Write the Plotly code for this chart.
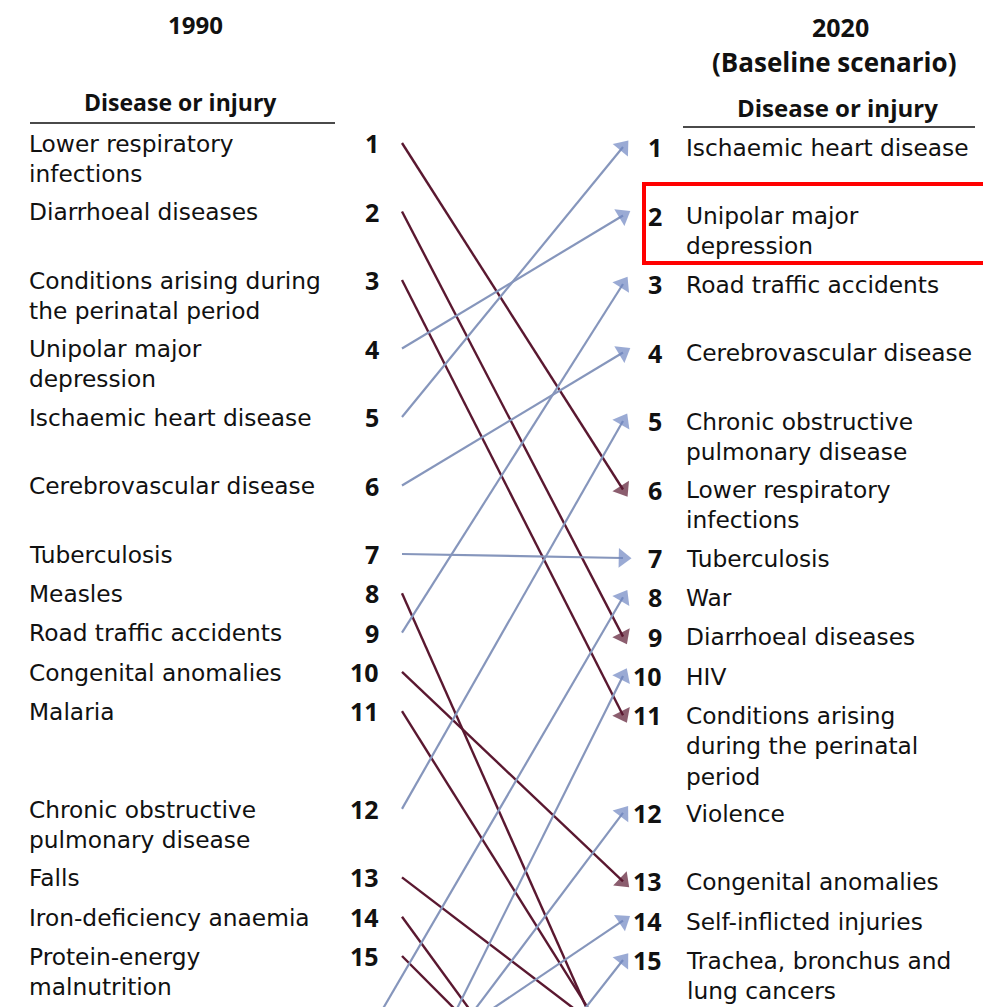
import plotly.graph_objects as go

# ---------------- data ----------------
labels_1990 = [
    "Lower respiratory<br>infections",
    "Diarrhoeal diseases",
    "Conditions arising during<br>the perinatal period",
    "Unipolar major<br>depression",
    "Ischaemic heart disease",
    "Cerebrovascular disease",
    "Tuberculosis",
    "Measles",
    "Road traffic accidents",
    "Congenital anomalies",
    "Malaria",
    "Chronic obstructive<br>pulmonary disease",
    "Falls",
    "Iron-deficiency anaemia",
    "Protein-energy<br>malnutrition",
]
labels_2020 = [
    "Ischaemic heart disease",
    "Unipolar major<br>depression",
    "Road traffic accidents",
    "Cerebrovascular disease",
    "Chronic obstructive<br>pulmonary disease",
    "Lower respiratory<br>infections",
    "Tuberculosis",
    "War",
    "Diarrhoeal diseases",
    "HIV",
    "Conditions arising<br>during the perinatal<br>period",
    "Violence",
    "Congenital anomalies",
    "Self-inflicted injuries",
    "Trachea, bronchus and<br>lung cancers",
]
causes = [
    "Lower respiratory infections", "Diarrhoeal diseases", "Perinatal conditions",
    "Unipolar major depression", "Ischaemic heart disease", "Cerebrovascular disease",
    "Tuberculosis", "Measles", "Road traffic accidents", "Congenital anomalies",
    "Malaria", "COPD", "Falls", "Iron-deficiency anaemia", "Protein-energy malnutrition",
    "War", "Self-inflicted injuries", "Violence", "HIV", "Trachea, bronchus and lung cancers",
]
rank_1990 = [1, 2, 3, 4, 5, 6, 7, 8, 9, 10, 11, 12, 13, 14, 15, 16, 17, 19, 28, 33]
rank_2020 = [6, 9, 11, 2, 1, 4, 7, 25, 3, 13, 24, 5, 19, 39, 37, 8, 14, 12, 10, 15]
rank_ticks = [str(i) for i in range(1, 16)]

# ---------------- layout geometry ----------------
W, H = 983, 1007
FIRST_ROW = 143.0
ROW_STEP = 39.3
LINE_STEP = 29.2
RIGHT_SHIFT = 4.0
LEFT_X, RIGHT_X = 402, 623
LOWER_LEFT_X = 360
# rows below the visible crop (estimated from line slopes)
lower_left_rows = {16: 1048, 17: 1098, 19: 1162, 28: 1203, 33: 1296}
lower_right_rows = {19: 1046, 24: 1064, 25: 1090, 37: 1178, 39: 1220}

nlines = [max(a.count("<br>"), b.count("<br>")) + 1 for a, b in zip(labels_1990, labels_2020)]
row_y = [FIRST_ROW]
for n in nlines[:-1]:
    row_y.append(row_y[-1] + ROW_STEP + LINE_STEP * (n - 1))

BLUE = "#8696bc"
BLUE_HEAD = "#6f86c2"
RED = "#5a1830"
FONT = "Open Sans"
LABEL_FONT = "DejaVu Sans"
LABEL_SIZE = 23.3
TXT = "#111111"

fig = go.Figure()

for c, r0, r1 in zip(causes, rank_1990, rank_2020):
    if r0 <= 15:
        x0, y0 = LEFT_X, row_y[r0 - 1]
    else:
        x0, y0 = LOWER_LEFT_X, lower_left_rows[r0]
    if r1 <= 15:
        y1 = row_y[r1 - 1] + RIGHT_SHIFT
    else:
        y1 = lower_right_rows[r1]
    x1 = RIGHT_X
    rising = r1 <= r0
    col = BLUE if rising else RED
    head = BLUE_HEAD if rising else RED
    fig.add_trace(go.Scatter(
        x=[x0, x1], y=[y0, y1], mode="lines+markers", name=c,
        line=dict(color=col, width=2.2 if rising else 2.4),
        marker=dict(symbol="triangle-up", size=[0, 17], angleref="previous",
                    color=head, line=dict(width=0)),
        hoverinfo="name",
    ))

ann = []
def text(x, y, s, size=25, xanchor="left", yanchor="middle", bold=False,
         family=FONT, color=TXT):
    ann.append(dict(x=x, y=y, xref="x", yref="y", text=("<b>%s</b>" % s) if bold else s,
                    showarrow=False, xanchor=xanchor, yanchor=yanchor, align="left",
                    font=dict(family=family, size=size, color=color)))

def label(x, y, s):
    # first line centred on the row; line spacing = 1.3 em
    text(x, y - 0.65 * LABEL_SIZE, s, size=LABEL_SIZE, yanchor="top", family=LABEL_FONT)

# headers
text(195, 24, "1990", size=24, xanchor="center", bold=True)
text(840, 27, "2020", size=25, xanchor="center", bold=True)
text(834, 62, "(Baseline scenario)", size=26, xanchor="center", bold=True)
text(180, 102, "Disease or injury", size=23, xanchor="center", bold=True)
text(837, 107, "Disease or injury", size=24, xanchor="center", bold=True)

for i, (lab, tick) in enumerate(zip(labels_1990, rank_ticks)):
    y = row_y[i]
    label(27, y, lab)
    text(381, y, tick, xanchor="right", bold=True)
for i, (lab, tick) in enumerate(zip(labels_2020, rank_ticks)):
    y = row_y[i] + RIGHT_SHIFT
    label(684, y, lab)
    text(664, y, tick, xanchor="right", bold=True)

shapes = [
    dict(type="line", xref="x", yref="y", x0=30, x1=335, y0=123, y1=123,
         line=dict(color="#4a4a4a", width=2)),
    dict(type="line", xref="x", yref="y", x0=683, x1=975, y0=127, y1=127,
         line=dict(color="#4a4a4a", width=2)),
    dict(type="rect", xref="x", yref="y", x0=644, x1=995, y0=184, y1=263,
         line=dict(color="#ff0000", width=4)),
]

fig.update_layout(
    width=W, height=H,
    margin=dict(l=0, r=0, t=0, b=0, pad=0),
    paper_bgcolor="white", plot_bgcolor="white",
    showlegend=False,
    xaxis=dict(range=[0, W], visible=False, fixedrange=True),
    yaxis=dict(range=[H, 0], visible=False, fixedrange=True),
    annotations=ann, shapes=shapes,
)

fig.write_html(
    "out.html",
    config={"displayModeBar": False},
    post_script="document.body.style.margin='0';"
                "document.body.style.overflow='hidden';"
                "document.documentElement.style.overflow='hidden';",
)
